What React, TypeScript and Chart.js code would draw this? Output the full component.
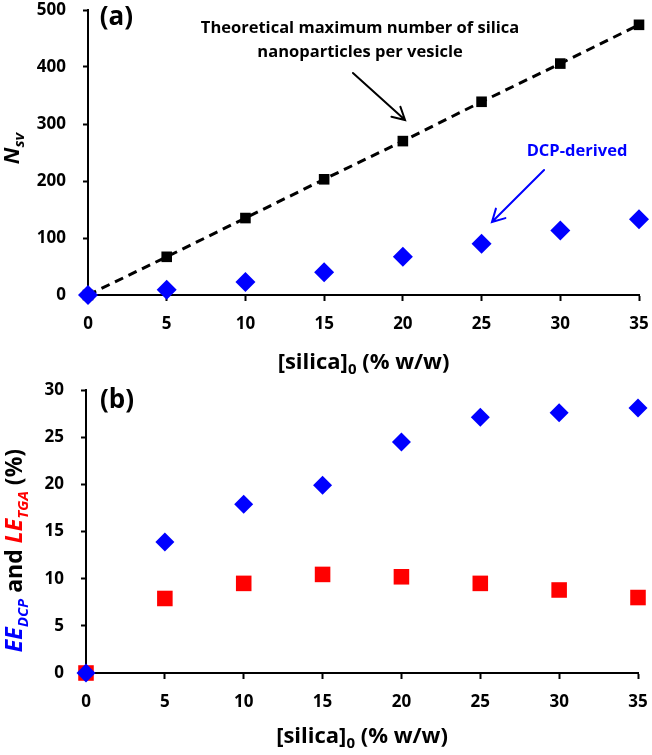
import React, { useEffect, useRef } from "react";
import { Chart, registerables } from "chart.js";

Chart.register(...registerables);

// ---------------- data ----------------
const silica = [0, 5, 10, 15, 20, 25, 30, 35];
const theoreticalNsv = [0, 67, 135, 203, 270, 339, 406, 474];
const dcpNsv = [0, 9, 23, 40, 67, 90, 113, 133];
const eeDcp = [0, 13.9, 17.9, 19.9, 24.5, 27.1, 27.6, 28.1];
const leTga = [0, 7.9, 9.5, 10.45, 10.2, 9.5, 8.8, 8.0];

const xTickValues = [0, 5, 10, 15, 20, 25, 30, 35];
const yTicksA = [0, 100, 200, 300, 400, 500];
const yTicksB = [0, 5, 10, 15, 20, 25, 30];

const FONT = "'Open Sans', 'Noto Sans', sans-serif";
const BLUE = "#0000ff";
const RED = "#ff0000";

type Seg = { t: string; color?: string; italic?: boolean; sub?: boolean };

function drawRich(
  ctx: CanvasRenderingContext2D,
  segs: Seg[],
  x: number,
  y: number,
  size: number,
  angle: number
) {
  ctx.save();
  ctx.translate(x, y);
  ctx.rotate(angle);
  const subSize = Math.round(size * 0.66);
  const fontFor = (s: Seg) =>
    `${s.italic ? "italic " : ""}bold ${s.sub ? subSize : size}px ${FONT}`;
  let total = 0;
  const widths = segs.map((s) => {
    ctx.font = fontFor(s);
    const w = ctx.measureText(s.t).width;
    total += w;
    return w;
  });
  let cx = -total / 2;
  ctx.textAlign = "left";
  ctx.textBaseline = "alphabetic";
  segs.forEach((s, i) => {
    ctx.font = fontFor(s);
    ctx.fillStyle = s.color || "#000";
    ctx.fillText(s.t, cx, s.sub ? size * 0.24 : 0);
    cx += widths[i];
  });
  ctx.restore();
}

type Note = { lines: string[]; x: number; y: number; color: string; size: number; lineGap: number };
type Arrow = { from: [number, number]; to: [number, number]; color: string };

type Decor = {
  label: string;
  labelPos: [number, number];
  xTitle: Seg[];
  xTitleSize: number;
  xTitleOffset: number;
  yTitle: Seg[];
  yTitleSize: number;
  yTitleX: number;
  yTitleDy: number;
  notes: Note[];
  arrows: Arrow[];
};

function makeDecorPlugin(d: Decor) {
  return {
    id: "decor",
    afterDraw(chart: any) {
      const ctx: CanvasRenderingContext2D = chart.ctx;
      const xs = chart.scales.x;
      const ys = chart.scales.y;
      const ca = chart.chartArea;
      // panel label
      ctx.save();
      ctx.font = `bold 26px ${FONT}`;
      ctx.fillStyle = "#000";
      ctx.textAlign = "center";
      ctx.textBaseline = "middle";
      ctx.fillText(d.label, xs.getPixelForValue(d.labelPos[0]), ys.getPixelForValue(d.labelPos[1]));
      ctx.restore();
      // x title
      drawRich(ctx, d.xTitle, (ca.left + ca.right) / 2, ca.bottom + d.xTitleOffset, d.xTitleSize, 0);
      // y title
      drawRich(ctx, d.yTitle, d.yTitleX, (ca.top + ca.bottom) / 2 + d.yTitleDy, d.yTitleSize, -Math.PI / 2);
      // notes
      d.notes.forEach((n) => {
        ctx.save();
        ctx.font = `bold ${n.size}px ${FONT}`;
        ctx.fillStyle = n.color;
        ctx.textAlign = "center";
        ctx.textBaseline = "middle";
        const px = xs.getPixelForValue(n.x);
        const py = ys.getPixelForValue(n.y);
        n.lines.forEach((l, i) => ctx.fillText(l, px, py + i * n.lineGap));
        ctx.restore();
      });
      // arrows
      d.arrows.forEach((a) => {
        const x1 = xs.getPixelForValue(a.from[0]);
        const y1 = ys.getPixelForValue(a.from[1]);
        const x2 = xs.getPixelForValue(a.to[0]);
        const y2 = ys.getPixelForValue(a.to[1]);
        const ang = Math.atan2(y2 - y1, x2 - x1);
        const hl = 14;
        const ha = 0.5;
        ctx.save();
        ctx.strokeStyle = a.color;
        ctx.lineWidth = 2;
        ctx.lineCap = "round";
        ctx.beginPath();
        ctx.moveTo(x1, y1);
        ctx.lineTo(x2, y2);
        ctx.moveTo(x2 - hl * Math.cos(ang - ha), y2 - hl * Math.sin(ang - ha));
        ctx.lineTo(x2, y2);
        ctx.lineTo(x2 - hl * Math.cos(ang + ha), y2 - hl * Math.sin(ang + ha));
        ctx.stroke();
        ctx.restore();
      });
    },
  };
}

function axisCommon(ticks: number[], min: number, max: number) {
  return {
    type: "linear" as const,
    min,
    max,
    afterBuildTicks: (s: any) => {
      s.ticks = ticks.map((v) => ({ value: v }));
    },
    grid: {
      display: true,
      drawOnChartArea: false,
      drawTicks: true,
      tickLength: 6,
      tickWidth: 2,
      tickColor: "#000",
      color: "#000",
    },
    border: { display: true, color: "#000", width: 2 },
    ticks: {
      color: "#000",
      font: { family: FONT, size: 17, weight: "bold" as const },
      maxRotation: 0,
      autoSkip: false,
    },
  };
}

function buildConfig(p: {
  datasets: any[];
  yTicks: number[];
  yMax: number;
  yWidth: number;
  xHeight: number;
  top: number;
  right: number;
  decor: Decor;
}) {
  const x = axisCommon(xTickValues, 0, 35);
  const y = axisCommon(p.yTicks, 0, p.yMax);
  return {
    type: "scatter" as const,
    data: { datasets: p.datasets },
    options: {
      responsive: false,
      animation: false as const,
      layout: { padding: { top: p.top, right: p.right, left: 0, bottom: 0 } },
      plugins: { legend: { display: false }, tooltip: { enabled: false } },
      scales: {
        x: {
          ...x,
          ticks: { ...x.ticks, padding: 13 },
          afterFit: (s: any) => {
            s.height = p.xHeight;
            s.paddingLeft = 0;
            s.paddingRight = 0;
          },
        },
        y: {
          ...y,
          grid: { ...y.grid, tickLength: 5 },
          ticks: { ...y.ticks, padding: 17 },
          afterFit: (s: any) => {
            s.width = p.yWidth;
            s.paddingTop = 0;
            s.paddingBottom = 0;
          },
        },
      },
    },
    plugins: [makeDecorPlugin(p.decor)],
  };
}

const pts = (ys: number[]) => silica.map((x, i) => ({ x, y: ys[i] }));

function configA() {
  return buildConfig({
    yTicks: yTicksA,
    yMax: 500,
    yWidth: 88,
    xHeight: 83,
    top: 10,
    right: 13,
    datasets: [
      {
        label: "DCP-derived",
        data: pts(dcpNsv),
        showLine: false,
        pointStyle: "rectRot",
        pointRadius: 10,
        pointBorderWidth: 0,
        backgroundColor: BLUE,
        borderColor: BLUE,
        clip: false,
      },
      {
        label: "Theoretical maximum",
        data: pts(theoreticalNsv),
        showLine: true,
        borderColor: "#000",
        borderWidth: 3,
        borderDash: [9, 6],
        pointStyle: "rect",
        pointRadius: 7.5,
        pointBorderWidth: 0,
        backgroundColor: "#000",
        clip: false,
      },
    ],
    decor: {
      label: "(a)",
      labelPos: [1.8, 486],
      xTitle: [{ t: "[silica]" }, { t: "0", sub: true }, { t: " (% w/w)" }],
      xTitleSize: 22,
      xTitleOffset: 74,
      yTitle: [{ t: "N", italic: true }, { t: "sv", italic: true, sub: true }],
      yTitleSize: 22,
      yTitleX: 19,
      yTitleDy: -4,
      notes: [
        {
          lines: ["Theoretical maximum number of silica", "nanoparticles per vesicle"],
          x: 17.28,
          y: 468,
          color: "#000",
          size: 16.5,
          lineGap: 24,
        },
        { lines: ["DCP-derived"], x: 31.06, y: 252.6, color: BLUE, size: 16.5, lineGap: 0 },
      ],
      arrows: [
        { from: [16.83, 389.5], to: [20.14, 307], color: "#000" },
        { from: [28.97, 219.3], to: [25.66, 128], color: BLUE },
      ],
    },
  });
}

function configB() {
  return buildConfig({
    yTicks: yTicksB,
    yMax: 30,
    yWidth: 86,
    xHeight: 82,
    top: 12,
    right: 14,
    datasets: [
      {
        label: "EE DCP",
        data: pts(eeDcp),
        showLine: false,
        pointStyle: "rectRot",
        pointRadius: 9.5,
        pointBorderWidth: 0,
        backgroundColor: BLUE,
        borderColor: BLUE,
        clip: false,
      },
      {
        label: "LE TGA",
        data: pts(leTga),
        showLine: false,
        pointStyle: "rect",
        pointRadius: 11,
        pointBorderWidth: 0,
        backgroundColor: RED,
        borderColor: RED,
        clip: false,
      },
    ],
    decor: {
      label: "(b)",
      labelPos: [1.97, 28.9],
      xTitle: [{ t: "[silica]" }, { t: "0", sub: true }, { t: " (% w/w)" }],
      xTitleSize: 22,
      xTitleOffset: 70,
      yTitle: [
        { t: "EE", italic: true, color: BLUE },
        { t: "DCP", italic: true, sub: true, color: BLUE },
        { t: " and " },
        { t: "LE", italic: true, color: RED },
        { t: "TGA", italic: true, sub: true, color: RED },
        { t: " (%)" },
      ],
      yTitleSize: 23,
      yTitleX: 22,
      yTitleDy: 19,
      notes: [],
      arrows: [],
    },
  });
}

function Panel({ make, width, height }: { make: () => any; width: number; height: number }) {
  const ref = useRef<HTMLCanvasElement>(null);
  useEffect(() => {
    const chart = new Chart(ref.current as HTMLCanvasElement, make());
    return () => chart.destroy();
  }, []);
  return (
    <canvas ref={ref} width={width} height={height} style={{ display: "block", width, height }} />
  );
}

export default function App() {
  useEffect(() => {
    document.body.style.margin = "0";
    document.body.style.background = "#fff";
  }, []);
  return (
    <div style={{ width: 652, height: 755, background: "#fff" }}>
      <Panel make={configA} width={652} height={378} />
      <Panel make={configB} width={652} height={377} />
    </div>
  );
}
